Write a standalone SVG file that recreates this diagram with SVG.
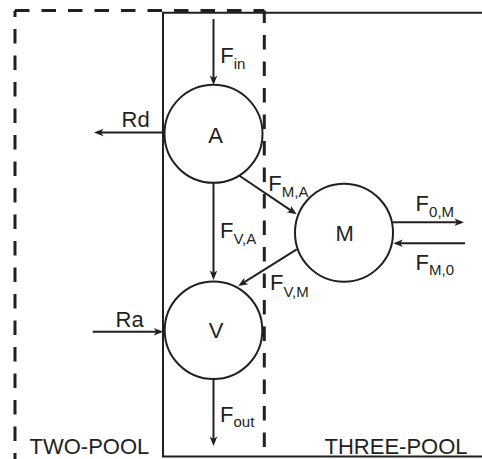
<svg xmlns="http://www.w3.org/2000/svg" width="482" height="459" viewBox="0 0 482 459">
<style>
.ln{stroke:#231f20;stroke-width:2;fill:none}
.dash{stroke:#231f20;stroke-width:3;fill:none;stroke-dasharray:14.5 12}
.node{stroke:#231f20;stroke-width:2;fill:#fff}
text{font-family:"Liberation Sans",Arial,sans-serif;font-size:22px;fill:#231f20}
.sub{font-size:15px}
.ctr{text-anchor:middle}
</style>
<defs>
<marker id="ah" viewBox="-10 -5 11 10" refX="-3" refY="0" markerWidth="11" markerHeight="10" markerUnits="userSpaceOnUse" orient="auto">
<path d="M0,0 L-9.5,-3.8 L-7,0 L-9.5,3.8 Z" fill="#231f20"/>
</marker>
</defs>
<rect width="482" height="459" fill="#fff"/>
<g id="boundaries">
<path class="ln" d="M483,12.7 L163,12.7 L163,456.5 L483,456.5"/>
<path class="dash" d="M15,10.5 L264.3,10.5"/>
<path class="dash" style="stroke-dashoffset:8.1" d="M15,10.5 L15,470"/>
<path class="dash" style="stroke-dashoffset:2" d="M264.3,10.5 L264.3,470"/>
</g>
<g id="connectors">
<line class="ln" marker-end="url(#ah)" x1="213.5" y1="19" x2="213.5" y2="82"/>
<line class="ln" marker-end="url(#ah)" x1="164.5" y1="132.5" x2="97" y2="132.5"/>
<line class="ln" marker-end="url(#ah)" x1="238.3" y1="175" x2="294.2" y2="212.6"/>
<line class="ln" marker-end="url(#ah)" x1="213.5" y1="182.7" x2="213.5" y2="277"/>
<line class="ln" marker-end="url(#ah)" x1="296.7" y1="249.3" x2="240.8" y2="284.4"/>
<line class="ln" marker-end="url(#ah)" x1="393" y1="222.3" x2="461" y2="222.3"/>
<line class="ln" marker-end="url(#ah)" x1="465" y1="243.3" x2="396.3" y2="243.3"/>
<line class="ln" marker-end="url(#ah)" x1="92.7" y1="331.7" x2="160.3" y2="331.7"/>
<line class="ln" marker-end="url(#ah)" x1="213.5" y1="379" x2="213.5" y2="443"/>
</g>
<g id="node-A">
<circle class="node" cx="213.5" cy="133.8" r="49"/>
<text class="ctr" x="215.5" y="142.5">A</text>
</g>
<g id="node-M">
<circle class="node" cx="344" cy="232.7" r="49"/>
<text class="ctr" x="344.7" y="240.7">M</text>
</g>
<g id="node-V">
<circle class="node" cx="213.5" cy="330.3" r="48.8"/>
<text class="ctr" x="216" y="338.3">V</text>
</g>
<g id="labels">
<text x="220.3" y="63.3">F<tspan class="sub" dy="5.4">in</tspan></text>
<text x="121.6" y="127">Rd</text>
<text x="268.3" y="190.7">F<tspan class="sub" dy="6">M,A</tspan></text>
<text x="220" y="238.3">F<tspan class="sub" dy="5.7">V,A</tspan></text>
<text x="270" y="290">F<tspan class="sub" dy="6.7">V,M</tspan></text>
<text x="415.6" y="211">F<tspan class="sub" dy="5.7">0,M</tspan></text>
<text x="415.6" y="270">F<tspan class="sub" dy="5">M,0</tspan></text>
<text x="115.6" y="327.3">Ra</text>
<text x="220" y="421.7">F<tspan class="sub" dy="5">out</tspan></text>
<text x="29.5" y="454.2">TWO-POOL</text>
<text x="324.5" y="454.2">THREE-POOL</text>
</g>
</svg>
